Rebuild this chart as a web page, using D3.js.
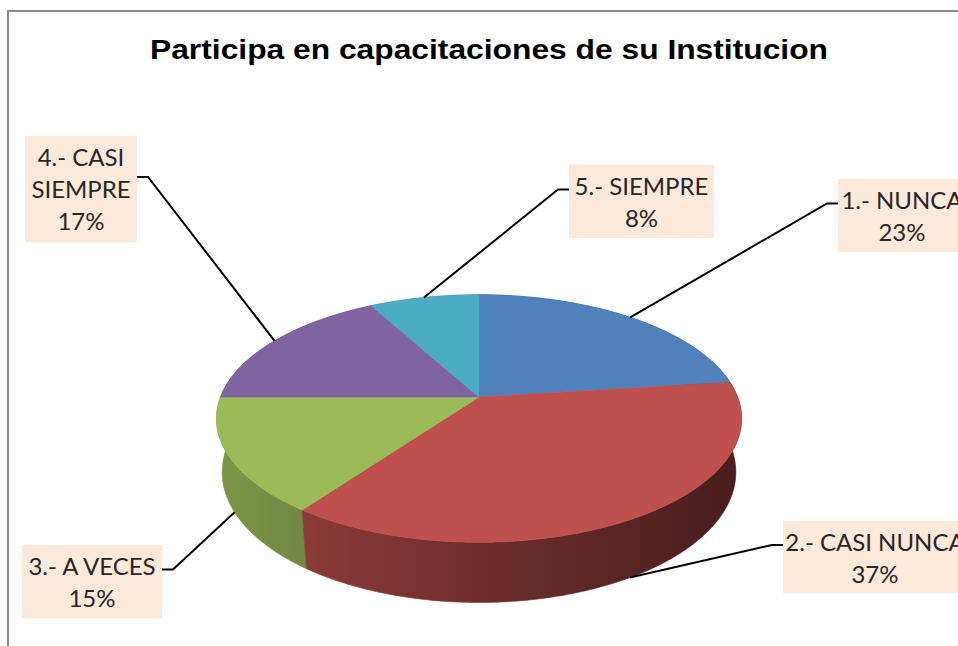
<!DOCTYPE html>
<html>
<head>
<meta charset="utf-8">
<script src="https://cdn.jsdelivr.net/npm/d3@7"></script>
<style>
  body { margin: 0; background: #fff; }
  svg { display: block; }
</style>
</head>
<body>
<div class="chart"></div>
<script>
/*globals d3*/
const title = "Participa en capacitaciones de su Institucion";
const categories = ["1.- NUNCA", "2.- CASI NUNCA", "3.- A VECES", "4.- CASI SIEMPRE", "5.- SIEMPRE"];
const percents = [23, 37, 15, 17, 8];
const colors = ["#4F81BD", "#C0504D", "#9BBB59", "#8064A2", "#4BACC6"];

const width = 958, height = 646;

// label boxes: left, top, width, height, how many words on the first line (0 = no wrap)
const boxes = [
  { x: 838, y: 179, w: 128, h: 73, wrap: 0 },
  { x: 783, y: 521, w: 184, h: 72, wrap: 0 },
  { x: 22, y: 545, w: 140, h: 73, wrap: 0 },
  { x: 25, y: 136, w: 112, h: 106, wrap: 2 },
  { x: 569, y: 165, w: 145, h: 73, wrap: 0 }
];

const svg = d3
  .select(".chart")
  .append("svg")
  .attr("width", width)
  .attr("height", height);

// chart border (only left and top are inside the picture)
svg
  .append("path")
  .attr("d", "M8,660 V11 H970")
  .attr("fill", "none")
  .attr("stroke", "#8a8a8a")
  .attr("stroke-width", 2);

svg
  .append("text")
  .attr("x", 489)
  .attr("y", 59)
  .attr("text-anchor", "middle")
  .attr("font-family", "'Liberation Sans', Arial, sans-serif")
  .attr("font-weight", "bold")
  .attr("font-size", 27)
  .attr("textLength", 678)
  .attr("lengthAdjust", "spacingAndGlyphs")
  .attr("fill", "#000")
  .text(title);

// perspective view of a tilted disc, radius 1, thickness = depth
const view = { cx: 479, cy: 397, f: 1316, dist: 5.09, tilt: 0.4826, depth: 0.2365 };
const sinT = Math.sin(view.tilt),
  cosT = Math.cos(view.tilt);

function project(angle, r, y) {
  const X = r * Math.sin(angle),
    Z = -r * Math.cos(angle);
  const up = y * cosT - Z * sinT;
  const t = y * sinT + Z * cosT;
  const k = view.f / (view.dist - t);
  return [view.cx + X * k, view.cy - up * k];
}

function arcPoints(a0, a1, y) {
  const n = Math.max(2, Math.ceil(Math.abs(a1 - a0) / 0.01));
  return d3.range(n + 1).map((i) => project(a0 + ((a1 - a0) * i) / n, 1, y));
}

const pie = d3.pie().sort(null).value((d) => d);
const slices = pie(percents).map((d, i) => ({ ...d, i, mid: (d.startAngle + d.endAngle) / 2 }));

const line = d3.line();

// side wall shading, light on the left, dark on the right
const defs = svg.append("defs");
const left = project(-Math.PI / 2, 1, 0)[0],
  right = project(Math.PI / 2, 1, 0)[0];
const shade = [
  [0, 0.8],
  [0.17, 0.72],
  [0.5, 0.58],
  [0.82, 0.44],
  [1, 0.38]
];
colors.forEach((c, i) => {
  const g = defs
    .append("linearGradient")
    .attr("id", "wall" + i)
    .attr("gradientUnits", "userSpaceOnUse")
    .attr("x1", left)
    .attr("x2", right)
    .attr("y1", 0)
    .attr("y2", 0);
  const base = d3.rgb(c);
  shade.forEach(([o, f]) => {
    g.append("stop")
      .attr("offset", o)
      .attr("stop-color", d3.rgb(base.r * f, base.g * f, base.b * f).formatHex());
  });
});

// outer walls, far ones first
const walls = slices.slice().sort((a, b) => -Math.cos(a.mid) - -Math.cos(b.mid));
svg
  .append("g")
  .selectAll("path")
  .data(walls)
  .join("path")
  .attr("d", (d) => {
    const top = arcPoints(d.startAngle, d.endAngle, 0);
    const bottom = arcPoints(d.endAngle, d.startAngle, -view.depth);
    return line(top.concat(bottom)) + "Z";
  })
  .attr("fill", (d) => `url(#wall${d.i})`)
  .attr("stroke", (d) => `url(#wall${d.i})`)
  .attr("stroke-width", 0.6);

// top faces
svg
  .append("g")
  .selectAll("path")
  .data(slices)
  .join("path")
  .attr("d", (d) => line([project(0, 0, 0)].concat(arcPoints(d.startAngle, d.endAngle, 0))) + "Z")
  .attr("fill", (d) => colors[d.i])
  .attr("stroke", (d) => colors[d.i])
  .attr("stroke-width", 0.6);

// leader lines
svg
  .append("g")
  .selectAll("path")
  .data(slices)
  .join("path")
  .attr("d", (d) => {
    const b = boxes[d.i];
    const front = -Math.cos(d.mid) > 0;
    const anchor = project(d.mid, 1, front ? -view.depth : 0);
    const onLeft = b.x + b.w / 2 < view.cx;
    const ax = onLeft ? b.x + b.w : b.x;
    const ay = b.y + b.h / 2 - 12;
    const elbow = [onLeft ? ax + 11 : ax - 11, ay];
    return line([anchor, elbow, [ax, ay]]);
  })
  .attr("fill", "none")
  .attr("stroke", "#000")
  .attr("stroke-width", 2);

// label boxes
const labels = svg
  .append("g")
  .selectAll("g")
  .data(slices)
  .join("g")
  .attr("transform", (d) => `translate(${boxes[d.i].x}, ${boxes[d.i].y})`);

labels
  .append("rect")
  .attr("width", (d) => boxes[d.i].w)
  .attr("height", (d) => boxes[d.i].h)
  .attr("fill", "#FDE9D9");

labels.each(function (d) {
  const b = boxes[d.i];
  const words = categories[d.i].split(" ");
  const lines = b.wrap ? [words.slice(0, b.wrap).join(" "), words.slice(b.wrap).join(" ")] : [categories[d.i]];
  lines.push(d3.format("d")(percents[d.i]) + "%");
  d3.select(this)
    .selectAll("text")
    .data(lines)
    .join("text")
    .attr("x", b.w / 2)
    .attr("y", (t, k) => 30 + k * 32)
    .attr("text-anchor", "middle")
    .attr("font-family", "Lato, 'Open Sans', sans-serif")
    .attr("font-size", 24)
    .attr("fill", "#262626")
    .text((t) => t);
});
</script>
</body>
</html>
